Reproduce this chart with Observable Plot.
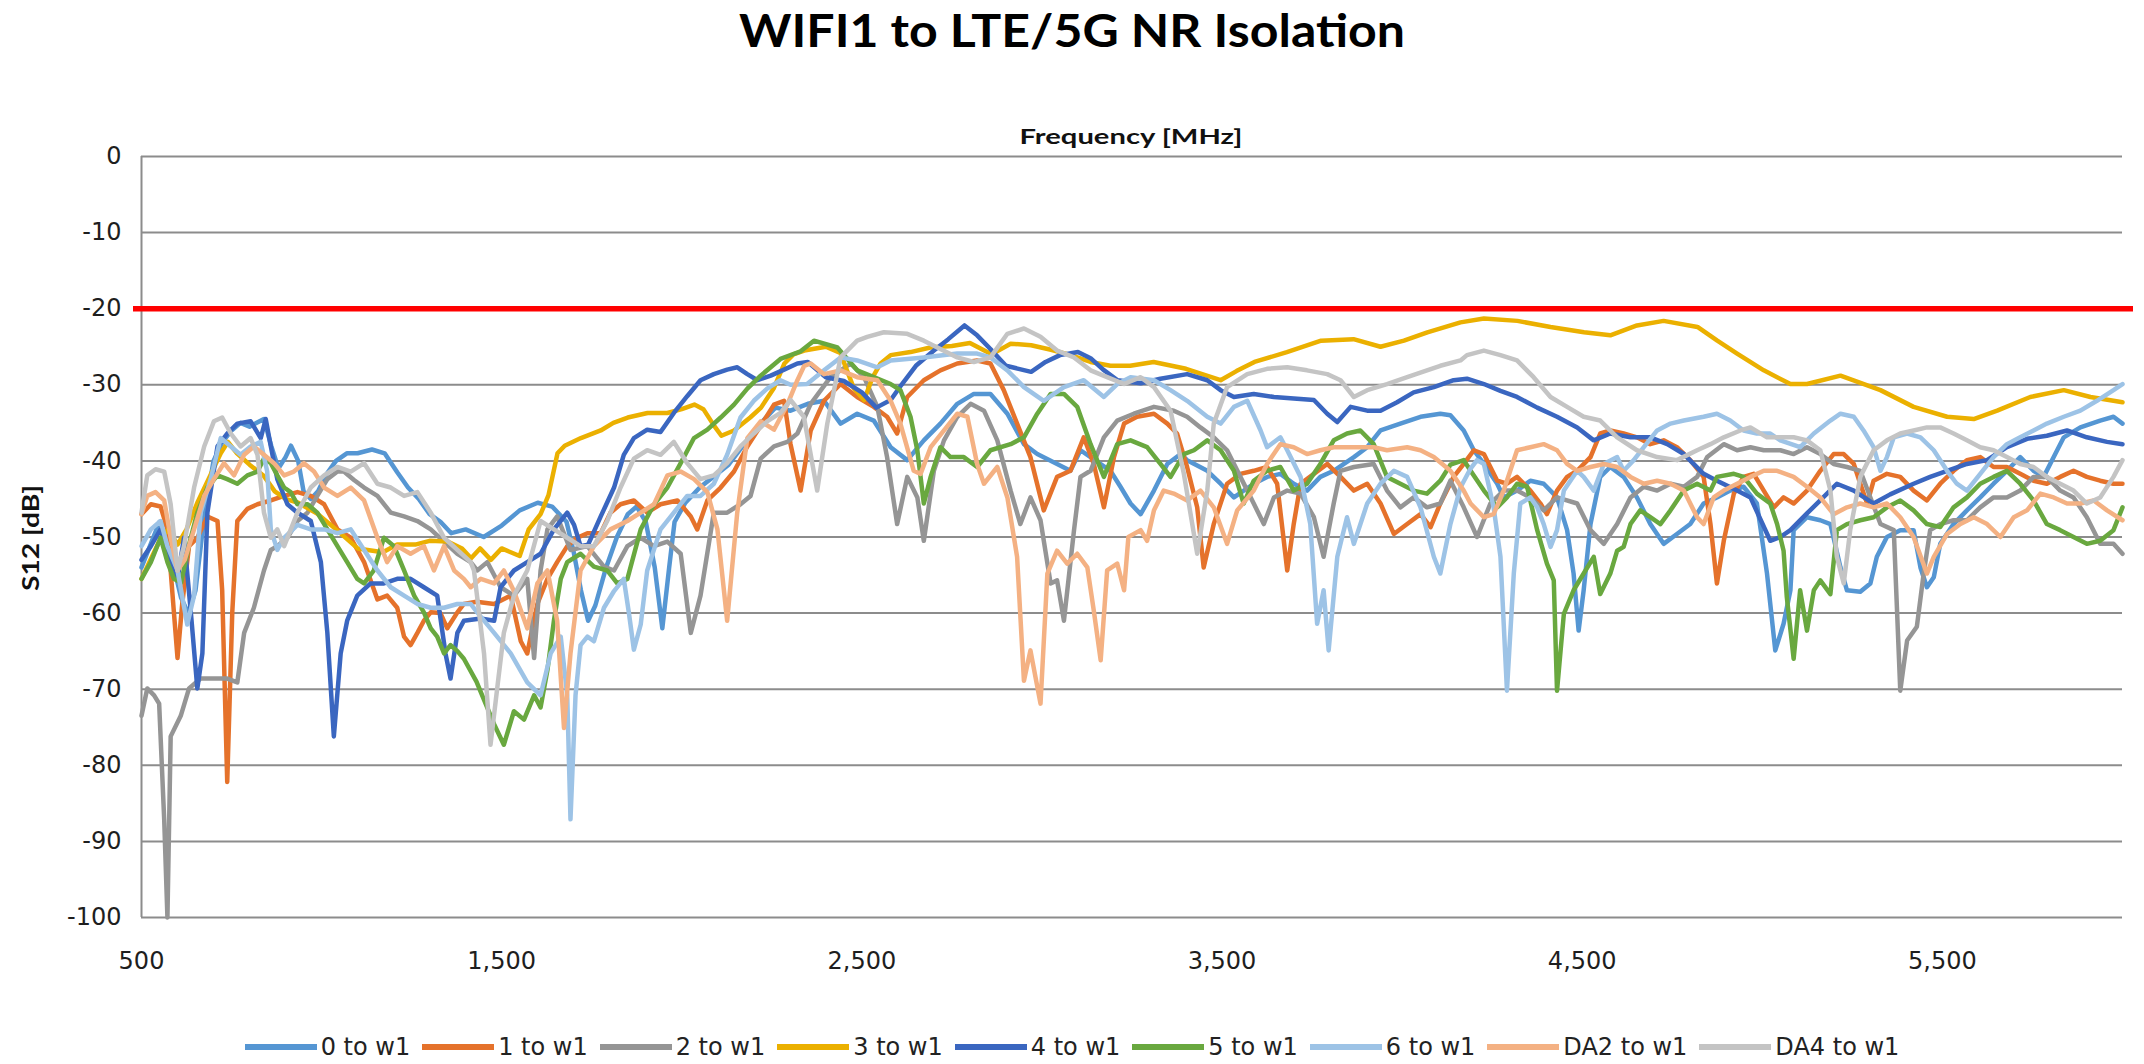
<!DOCTYPE html>
<html>
<head>
<meta charset="utf-8">
<script src="https://cdn.jsdelivr.net/npm/d3@7"></script>
<script src="https://cdn.jsdelivr.net/npm/@observablehq/plot@0.6"></script>
<style>
html, body { margin: 0; padding: 0; background: #ffffff; }
#wrap { position: relative; width: 2144px; height: 1064px; overflow: hidden; background: #fff; }
#chart { position: absolute; left: 0; top: 0; }
.fit { position: absolute; white-space: nowrap; }
#title { top: 2px; left: 1072px; font: bold 46px Lato, sans-serif; line-height: 55px; color: #000; }
#xlabel { top: 124px; left: 1131px; font: bold 20px Lato, sans-serif; line-height: 24px; color: #111; }
#ylabel { top: 538px; left: 31px; font: bold 22px Lato, sans-serif; line-height: 26px; color: #111; }
#legend { position: absolute; left: 0; width: 2144px; top: 1033px; height: 28px; display: flex; justify-content: center; align-items: center; font: 24px "DejaVu Sans", sans-serif; color: #222; }
.item { display: flex; align-items: center; margin: 0 6px; }
.sw { width: 72px; height: 6px; margin-right: 4px; }
</style>
</head>
<body>
<div id="wrap">
  <div id="chart"></div>
  <div id="title" class="fit"><span>WIFI1 to LTE/5G NR Isolation</span></div>
  <div id="xlabel" class="fit"><span>Frequency [MHz]</span></div>
  <div id="ylabel" class="fit"><span>S12 [dB]</span></div>
  <div id="legend"></div>
</div>
<script>
// ---- chart data ----
const seriesNames = ["0 to w1", "1 to w1", "2 to w1", "3 to w1", "4 to w1", "5 to w1", "6 to w1", "DA2 to w1", "DA4 to w1"];
const seriesColors = ["#5596D3", "#E5722B", "#959595", "#EBB000", "#3A66C0", "#69A83F", "#9DC3E6", "#F4B183", "#C4C4C4"];
const xTicks = [500, 1500, 2500, 3500, 4500, 5500];
const yTicks = [0, -10, -20, -30, -40, -50, -60, -70, -80, -90, -100];
const limitLine = -20;
const xDomain = [500, 6000];
const yDomain = [-100, 0];

const s0 = [[500,-54],[525,-51],[550,-48],[570,-48.5],[590,-54],[610,-58],[630,-60],[650,-57],[675,-47],[700,-40],[725,-37.5],[750,-36],[775,-35],[800,-35.5],[820,-35],[840,-34.5],[860,-38],[880,-41],[900,-39.5],[915,-38],[935,-40],[950,-44],[970,-45],[990,-44],[1010,-42],[1040,-40],[1070,-39],[1100,-39],[1140,-38.5],[1175,-39],[1210,-41.5],[1240,-43.5],[1270,-45],[1300,-47],[1330,-48],[1360,-49.5],[1400,-49],[1450,-50],[1500,-48.5],[1550,-46.5],[1600,-45.5],[1640,-46],[1680,-48],[1700,-52],[1720,-57],[1740,-61],[1760,-59],[1790,-54],[1820,-50],[1850,-47],[1875,-46],[1900,-48],[1925,-54],[1946,-62],[1965,-54],[1980,-48],[2010,-45.5],[2050,-43.5],[2090,-42],[2130,-40.5],[2170,-38],[2220,-35],[2260,-33],[2302,-33.4],[2350,-32.5],[2395,-32.1],[2441,-35.1],[2487,-33.8],[2533,-34.7],[2580,-38.2],[2626,-39.9],[2672,-37.3],[2718,-35.1],[2765,-32.5],[2811,-31.2],[2857,-31.2],[2904,-33.8],[2950,-37.8],[2987,-39.1],[3042,-40.4],[3079,-41.3],[3107,-38.6],[3135,-39.5],[3190,-41.3],[3218,-43.4],[3246,-45.6],[3274,-47],[3311,-43.9],[3348,-40.4],[3385,-39.1],[3403,-39.9],[3459,-41.3],[3496,-43],[3533,-44.8],[3588,-43],[3625,-42.1],[3662,-41.7],[3699,-43],[3736,-43.9],[3773,-42.1],[3810,-41.3],[3866,-39.5],[3903,-38.2],[3940,-36],[3995,-35.1],[4051,-34.2],[4106,-33.8],[4134,-34],[4171,-36],[4199,-38.6],[4227,-40.4],[4264,-43],[4282,-44.8],[4319,-43.9],[4356,-42.6],[4393,-43],[4430,-44.8],[4458,-49.1],[4476,-54.8],[4490,-62.3],[4504,-57],[4523,-48.3],[4550,-42.1],[4578,-40.8],[4615,-42.1],[4652,-44.8],[4689,-48.3],[4726,-50.9],[4763,-49.6],[4800,-48.3],[4837,-45.6],[4874,-44.8],[4911,-43.9],[4948,-43.4],[4985,-45.6],[5013,-54.8],[5036,-64.9],[5059,-61.4],[5078,-57],[5087,-49.1],[5124,-47.4],[5161,-47.8],[5189,-48.3],[5217,-54],[5235,-57],[5272,-57.2],[5300,-56.1],[5318,-52.6],[5346,-50],[5383,-49.1],[5420,-49.1],[5439,-54],[5457,-56.6],[5476,-55.3],[5494,-50.9],[5531,-48.3],[5568,-46.5],[5605,-44.8],[5642,-43],[5679,-41.3],[5716,-39.5],[5753,-41.3],[5781,-42.1],[5809,-39.5],[5837,-36.9],[5883,-35.6],[5938,-34.7],[5975,-34.2],[6000,-35.1]];

const s1 = [[500,-47],[526,-45.7],[553,-46],[572,-49],[590,-59.9],[600,-65.9],[613,-58.8],[632,-51.2],[655,-50.1],[683,-47.3],[711,-47.9],[724,-57],[738,-82.2],[752,-59.9],[766,-47.9],[794,-46.3],[822,-45.7],[859,-45.2],[896,-44.6],[933,-44.1],[970,-44.6],[1007,-45.7],[1044,-49],[1081,-50.1],[1118,-53.3],[1155,-58.2],[1182,-57.7],[1210,-59.3],[1229,-63.1],[1247,-64.2],[1266,-62.6],[1284,-61],[1303,-59.9],[1330,-60],[1349,-62],[1377,-59.9],[1395,-58.8],[1430,-58.5],[1479,-58.8],[1525,-57.7],[1553,-63.7],[1571,-65.3],[1599,-58.8],[1627,-55.5],[1654,-53.3],[1682,-51.2],[1710,-50.1],[1738,-49.5],[1775,-49.5],[1802,-46.8],[1830,-45.7],[1867,-45.2],[1904,-46.8],[1941,-45.7],[1988,-45.2],[2025,-47.3],[2043,-49],[2071,-45.2],[2108,-43.5],[2145,-41.4],[2182,-38.1],[2219,-35.4],[2256,-32.6],[2284,-32.1],[2302,-37.8],[2330,-43.9],[2358,-36],[2395,-32.1],[2441,-29.9],[2487,-31.6],[2533,-32.9],[2570,-34.2],[2598,-36.4],[2626,-31.6],[2672,-29.4],[2718,-28.1],[2765,-27.2],[2820,-26.8],[2857,-27.2],[2894,-30.7],[2931,-35.1],[2968,-39.5],[3005,-46.5],[3042,-42.1],[3079,-41.3],[3116,-36.9],[3144,-40.4],[3172,-46.1],[3200,-39.5],[3228,-35.1],[3264,-34.2],[3311,-33.8],[3348,-35.1],[3375,-36.4],[3403,-40.8],[3431,-46.1],[3449,-54],[3477,-48.3],[3514,-43],[3551,-41.7],[3588,-41.3],[3625,-40.8],[3653,-43],[3681,-54.4],[3699,-48.3],[3718,-43],[3755,-41.7],[3792,-40.4],[3829,-42.1],[3866,-43.9],[3903,-43],[3940,-45.6],[3977,-49.6],[4014,-48.3],[4051,-47],[4079,-48.7],[4106,-45.6],[4143,-42.1],[4171,-40.4],[4199,-38.6],[4227,-39.1],[4264,-42.6],[4291,-43],[4319,-42.1],[4356,-43.9],[4384,-45.6],[4402,-47],[4430,-43.9],[4458,-42.1],[4486,-41.3],[4523,-39.5],[4550,-36.4],[4578,-36],[4615,-36.4],[4652,-36.9],[4689,-37.8],[4726,-37.3],[4763,-38.2],[4800,-39.9],[4837,-42.1],[4856,-48.3],[4874,-56.1],[4893,-50.5],[4921,-44.3],[4948,-42.1],[4976,-41.7],[5004,-43.9],[5032,-46.1],[5059,-44.8],[5087,-45.6],[5124,-43.9],[5161,-41.3],[5198,-39.1],[5226,-39.1],[5254,-40.4],[5272,-43],[5291,-45.6],[5309,-42.6],[5346,-41.7],[5383,-42.1],[5420,-43.9],[5457,-45.2],[5494,-43],[5531,-41.3],[5568,-39.9],[5605,-39.5],[5642,-40.8],[5679,-40.8],[5716,-41.7],[5753,-42.6],[5790,-43],[5827,-42.1],[5864,-41.3],[5901,-42.1],[5938,-42.6],[5975,-43],[6000,-43]];

const s2 = [[500,-73.5],[516,-69.9],[535,-70.8],[549,-71.9],[563,-87.1],[572,-100],[581,-76.2],[609,-73.5],[632,-69.9],[664,-68.6],[701,-68.6],[738,-68.6],[766,-69.1],[785,-62.6],[812,-59.3],[840,-54.4],[859,-51.7],[877,-51.2],[905,-50.1],[933,-47.9],[961,-46.8],[988,-44.6],[1016,-42.4],[1044,-41.4],[1062,-41.4],[1090,-42.5],[1118,-43.5],[1155,-44.6],[1192,-46.8],[1229,-47.3],[1266,-47.9],[1303,-49],[1340,-50.6],[1377,-52.2],[1414,-53.3],[1432,-54.4],[1460,-53.3],[1497,-56.6],[1534,-57.7],[1571,-55.5],[1590,-65.9],[1608,-54.4],[1627,-49],[1654,-47.3],[1691,-51.7],[1738,-51.2],[1784,-53.9],[1812,-54.4],[1849,-51.2],[1886,-50.1],[1923,-51.2],[1960,-50.6],[1997,-52.2],[2025,-62.6],[2052,-57.7],[2089,-46.8],[2126,-46.8],[2163,-45.7],[2191,-44.6],[2219,-39.7],[2256,-38.1],[2293,-37.5],[2321,-36.4],[2358,-32.5],[2413,-29],[2469,-27.2],[2506,-29],[2543,-32.9],[2570,-39.5],[2598,-48.3],[2626,-42.1],[2654,-44.8],[2672,-50.5],[2700,-41.3],[2728,-37.3],[2765,-34.2],[2802,-32.5],[2839,-33.4],[2876,-37.3],[2913,-43.9],[2940,-48.3],[2968,-44.8],[2996,-47.8],[3024,-56.1],[3042,-55.7],[3061,-61],[3089,-49.1],[3107,-42.1],[3135,-41.3],[3172,-36.9],[3209,-34.7],[3255,-33.8],[3311,-32.9],[3366,-33.4],[3403,-34.2],[3440,-35.6],[3477,-36.9],[3514,-38.6],[3551,-42.1],[3588,-45.6],[3616,-48.3],[3644,-44.8],[3681,-43.9],[3718,-44.3],[3755,-47.4],[3782,-52.6],[3810,-45.6],[3829,-41.3],[3866,-40.8],[3921,-40.4],[3958,-43.9],[3995,-46.1],[4032,-44.8],[4069,-46.1],[4106,-45.6],[4134,-42.6],[4171,-46.1],[4208,-50],[4245,-45.6],[4282,-43.9],[4319,-43.9],[4356,-44.8],[4393,-46.5],[4430,-44.8],[4486,-45.6],[4523,-49.1],[4560,-50.9],[4597,-48.3],[4634,-44.8],[4671,-43.4],[4708,-43.9],[4745,-43],[4782,-43.4],[4819,-42.1],[4847,-39.5],[4893,-37.8],[4930,-38.6],[4967,-38.2],[5004,-38.6],[5050,-38.6],[5087,-39.1],[5124,-38.2],[5161,-39.1],[5198,-40.4],[5235,-40.8],[5272,-41.3],[5300,-44.8],[5328,-48.3],[5365,-49.1],[5383,-70.2],[5402,-63.6],[5429,-61.8],[5448,-54.8],[5466,-49.1],[5494,-48.3],[5531,-47.8],[5568,-47.8],[5605,-46.1],[5642,-44.8],[5679,-44.8],[5716,-43.9],[5753,-42.1],[5790,-42.1],[5827,-43.9],[5864,-44.8],[5901,-47.4],[5938,-50.9],[5975,-50.9],[6000,-52.2]];

const s3 = [[500,-55.5],[525,-53],[555,-50],[575,-49],[600,-51],[625,-49],[655,-45.5],[690,-42],[720,-39],[740,-37.5],[765,-39],[800,-40.5],[840,-42],[870,-44],[900,-45],[935,-45.5],[990,-47],[1040,-49],[1100,-51.5],[1170,-52],[1210,-51],[1260,-51],[1300,-50.5],[1350,-50.6],[1390,-51.5],[1415,-52.8],[1440,-51.5],[1470,-53],[1500,-51.5],[1525,-52],[1550,-52.5],[1575,-49],[1608,-47],[1630,-44.5],[1655,-39],[1675,-38],[1720,-37],[1775,-36],[1810,-35],[1850,-34.3],[1905,-33.7],[1960,-33.7],[2000,-33.2],[2035,-32.6],[2060,-33.2],[2090,-35.4],[2110,-36.7],[2145,-36],[2190,-34.3],[2220,-33],[2255,-30.5],[2285,-27.2],[2310,-26],[2340,-25.5],[2400,-25],[2440,-25.8],[2478,-30.5],[2506,-32],[2530,-29],[2552,-27.2],[2580,-26.1],[2635,-25.7],[2690,-25.1],[2750,-24.9],[2800,-24.5],[2860,-26],[2913,-24.6],[2970,-24.8],[3025,-25.4],[3080,-26.1],[3135,-27],[3190,-27.5],[3245,-27.5],[3310,-27],[3400,-27.9],[3496,-29.4],[3540,-28.2],[3590,-27],[3680,-25.7],[3775,-24.2],[3865,-24],[3940,-25],[4005,-24.2],[4070,-23.1],[4162,-21.8],[4227,-21.3],[4320,-21.6],[4412,-22.4],[4505,-23.1],[4578,-23.5],[4652,-22.2],[4726,-21.6],[4820,-22.4],[4875,-24.2],[4930,-25.9],[5004,-28.1],[5078,-29.9],[5124,-29.9],[5217,-28.8],[5328,-30.7],[5420,-32.9],[5513,-34.2],[5587,-34.5],[5652,-33.4],[5744,-31.6],[5837,-30.7],[5911,-31.6],[5975,-32.1],[6000,-32.3]];

const s4 = [[500,-53],[526,-51.2],[553,-49],[572,-51.7],[600,-55.5],[618,-50.1],[637,-59.9],[655,-69.9],[669,-65.3],[683,-46.8],[711,-38.1],[738,-36.4],[766,-35.1],[803,-34.8],[831,-37],[845,-34.5],[859,-38.1],[877,-42.4],[905,-45.7],[933,-46.8],[970,-47.9],[998,-53.3],[1016,-62.6],[1034,-76.2],[1053,-65.3],[1071,-61],[1099,-57.7],[1136,-56.1],[1173,-56.1],[1210,-55.5],[1247,-55.5],[1284,-56.6],[1321,-57.7],[1344,-65.3],[1358,-68.6],[1377,-62.6],[1395,-61],[1442,-60.7],[1479,-61],[1497,-56.6],[1534,-54.4],[1571,-53.3],[1608,-52.2],[1645,-49],[1682,-46.8],[1701,-48.4],[1719,-51.2],[1740,-51],[1775,-47.3],[1812,-43.5],[1839,-39.2],[1867,-37],[1904,-35.9],[1941,-36.2],[1978,-33.7],[2015,-31.5],[2052,-29.4],[2089,-28.6],[2126,-28],[2154,-27.7],[2182,-28.6],[2210,-29.4],[2247,-28.8],[2284,-28],[2321,-27.2],[2350,-27],[2400,-29],[2450,-29.5],[2500,-31],[2540,-33],[2580,-32],[2610,-30],[2650,-27.5],[2700,-25.5],[2740,-24],[2785,-22.2],[2820,-23.5],[2857,-25.3],[2900,-27.5],[2970,-28.3],[3010,-27],[3050,-26.1],[3100,-25.7],[3135,-26.5],[3170,-28],[3210,-29.4],[3274,-29.8],[3329,-29.2],[3403,-28.6],[3459,-29.4],[3496,-30.7],[3533,-31.6],[3588,-31.2],[3644,-31.6],[3699,-31.8],[3755,-32],[3792,-33.8],[3820,-34.9],[3857,-32.9],[3903,-33.4],[3940,-33.4],[3986,-32.3],[4032,-31],[4088,-30.3],[4143,-29.4],[4180,-29.2],[4227,-29.9],[4273,-30.8],[4319,-31.6],[4375,-33],[4430,-34.2],[4486,-35.6],[4532,-37.3],[4578,-36.4],[4634,-36.9],[4689,-36.9],[4736,-37.8],[4782,-39.1],[4837,-41.7],[4874,-42.6],[4930,-43.9],[4967,-44.8],[5022,-50.5],[5050,-50],[5078,-49.1],[5124,-46.9],[5165,-45],[5207,-43],[5254,-43.9],[5309,-45.6],[5355,-44.4],[5420,-43],[5466,-42.1],[5513,-41.3],[5568,-40.4],[5624,-39.9],[5679,-38.2],[5735,-37.1],[5790,-36.7],[5846,-36],[5901,-36.9],[5957,-37.5],[6000,-37.8]];

const s5 = [[500,-55.5],[526,-53.3],[553,-50.1],[572,-53.3],[590,-55.5],[610,-56],[632,-51],[655,-46.8],[683,-43.5],[711,-41.9],[738,-42.4],[766,-43],[794,-41.9],[822,-41.4],[840,-39.7],[859,-40.3],[877,-41.9],[896,-43.5],[914,-44.1],[933,-45.7],[961,-45.7],[988,-46.8],[1016,-49],[1044,-51.2],[1071,-53.3],[1099,-55.5],[1118,-56.1],[1145,-54.4],[1173,-50.1],[1201,-51.2],[1229,-54.4],[1257,-57.7],[1284,-59.9],[1303,-62],[1321,-63.1],[1340,-65.3],[1358,-64.2],[1377,-65],[1395,-66],[1430,-69],[1479,-74.6],[1506,-77.3],[1534,-72.9],[1562,-74],[1590,-70.8],[1608,-72.4],[1627,-67.5],[1645,-61],[1664,-55.5],[1682,-53.3],[1719,-52.2],[1756,-53.9],[1793,-54.4],[1821,-56.1],[1849,-55.5],[1886,-49],[1923,-45.7],[1960,-43.5],[1997,-40.3],[2034,-37],[2071,-35.9],[2108,-34.3],[2145,-32.6],[2182,-30.5],[2219,-28.8],[2274,-26.6],[2330,-25.6],[2367,-24.2],[2432,-25.1],[2487,-28.1],[2533,-29],[2580,-29.9],[2607,-30.7],[2635,-34.2],[2654,-38.6],[2672,-45.6],[2691,-42.1],[2718,-38.2],[2746,-39.5],[2783,-39.5],[2820,-40.8],[2857,-38.6],[2913,-37.8],[2950,-36.9],[2987,-33.8],[3024,-31.2],[3061,-31.2],[3098,-32.9],[3135,-37.8],[3172,-42.1],[3209,-37.8],[3246,-37.3],[3292,-38.2],[3329,-40.4],[3357,-42.1],[3394,-39.1],[3422,-38.6],[3459,-37.3],[3496,-38.6],[3533,-41.3],[3560,-45.6],[3588,-42.6],[3625,-41.3],[3662,-40.8],[3699,-43.9],[3736,-43],[3773,-40.4],[3810,-37.3],[3847,-36.4],[3884,-36],[3921,-37.8],[3958,-42.1],[3995,-43],[4032,-43.9],[4069,-44.3],[4106,-42.6],[4134,-40.5],[4171,-39.9],[4190,-41.3],[4227,-43.9],[4264,-46.1],[4291,-44.8],[4319,-43],[4347,-43.4],[4375,-49.1],[4402,-53.5],[4421,-55.7],[4430,-70.2],[4449,-60.1],[4476,-57],[4504,-54.8],[4532,-52.6],[4550,-57.5],[4578,-54.8],[4597,-51.8],[4615,-51.3],[4634,-48.3],[4661,-46.5],[4689,-47.4],[4717,-48.3],[4745,-46.5],[4782,-43.9],[4819,-43],[4856,-43.9],[4874,-42.1],[4921,-41.7],[4948,-42.1],[4985,-44.3],[5022,-45.6],[5041,-48.3],[5059,-51.8],[5068,-57.9],[5087,-66],[5105,-57],[5124,-62.3],[5143,-57],[5161,-55.7],[5189,-57.5],[5207,-49.1],[5235,-48.3],[5272,-47.8],[5309,-47.4],[5346,-46.1],[5383,-45.2],[5420,-46.5],[5457,-48.3],[5494,-48.7],[5531,-46.1],[5568,-44.8],[5605,-43],[5642,-42.1],[5679,-41.3],[5716,-43],[5753,-45.2],[5790,-48.3],[5827,-49.1],[5864,-50],[5901,-50.9],[5938,-50.5],[5975,-49.1],[6000,-46.1]];

const s6 = [[500,-51.2],[526,-49],[553,-47.9],[572,-51.2],[600,-54.4],[627,-61.5],[646,-57.7],[664,-46.8],[692,-42.4],[720,-37],[748,-38.1],[775,-39.2],[803,-38.1],[831,-37.5],[849,-41.4],[859,-49],[877,-51.7],[896,-50.1],[933,-48.4],[970,-49],[1007,-49],[1044,-49.5],[1081,-49],[1118,-51.7],[1155,-54.4],[1192,-56.6],[1229,-57.7],[1266,-58.8],[1303,-59.3],[1340,-59.3],[1377,-58.8],[1414,-58.8],[1432,-59.9],[1479,-62.6],[1525,-65.3],[1571,-69.1],[1608,-70.8],[1636,-65.3],[1664,-63.1],[1682,-70.8],[1691,-87.1],[1705,-70.8],[1719,-64.2],[1738,-63.1],[1756,-63.7],[1784,-59.3],[1812,-57.1],[1839,-55.5],[1853,-59.9],[1867,-64.8],[1886,-61.5],[1904,-54.4],[1941,-49],[1978,-46.8],[2015,-44.6],[2052,-44.6],[2089,-43],[2126,-39.2],[2163,-34.3],[2200,-32.1],[2237,-30.5],[2274,-29.4],[2302,-30],[2348,-29.9],[2395,-28.1],[2441,-26.4],[2487,-26.8],[2543,-27.7],[2580,-26.8],[2672,-26.4],[2765,-25.9],[2820,-25.9],[2857,-26.4],[2904,-28.1],[2950,-30.3],[3005,-32.1],[3061,-30.3],[3116,-29.4],[3172,-31.6],[3209,-29.9],[3246,-29],[3311,-29.4],[3357,-30.7],[3403,-32.1],[3459,-34.2],[3496,-35.1],[3533,-32.9],[3570,-32.1],[3607,-36],[3625,-38.2],[3662,-36.9],[3681,-38.6],[3718,-42.1],[3745,-48.3],[3764,-61.4],[3782,-57],[3796,-64.9],[3820,-52.6],[3847,-47.4],[3866,-50.9],[3903,-45.6],[3940,-43],[3977,-41.3],[4014,-42.1],[4051,-46.1],[4088,-52.6],[4106,-54.8],[4134,-48.3],[4162,-43.5],[4190,-41],[4208,-39.9],[4227,-40.4],[4254,-46.1],[4273,-52.6],[4291,-70.2],[4310,-54.8],[4328,-45.6],[4356,-44.8],[4375,-46.1],[4393,-48.3],[4412,-51.3],[4430,-49.1],[4449,-43.9],[4486,-41.3],[4504,-42.1],[4532,-43.9],[4560,-40.4],[4597,-39.5],[4615,-41.3],[4643,-39.9],[4671,-38.2],[4708,-36],[4745,-35.1],[4782,-34.7],[4837,-34.2],[4874,-33.8],[4911,-34.7],[4948,-36],[4985,-36.4],[5022,-36.4],[5050,-37.3],[5105,-38.2],[5143,-36.4],[5189,-34.7],[5217,-33.8],[5254,-34.2],[5281,-36],[5309,-38.2],[5328,-41.3],[5346,-39.5],[5365,-36.9],[5402,-36.4],[5439,-36.9],[5476,-38.6],[5513,-41.3],[5540,-43],[5568,-43.9],[5605,-41.7],[5642,-39.5],[5679,-37.8],[5716,-36.9],[5753,-36],[5790,-35.1],[5837,-34.2],[5883,-33.4],[5929,-32.1],[5975,-30.7],[6000,-29.9]];

const s7 = [[500,-47],[516,-44.6],[539,-44.1],[563,-45.2],[581,-50.1],[600,-54.4],[620,-53],[646,-49],[674,-44.6],[701,-42.4],[729,-40.3],[757,-41.9],[785,-39.2],[812,-38.1],[840,-39.2],[868,-40.3],[896,-41.9],[923,-41.4],[951,-40.3],[979,-41.4],[1007,-43.5],[1044,-44.6],[1081,-43.5],[1118,-45.2],[1155,-50.1],[1182,-53.3],[1210,-51.2],[1247,-52.2],[1284,-51.2],[1312,-54.4],[1340,-51.2],[1368,-54.4],[1395,-55.5],[1414,-56.6],[1442,-55.5],[1479,-56.1],[1506,-54.4],[1534,-57.1],[1571,-62],[1599,-56.1],[1627,-54.4],[1654,-61],[1673,-75.1],[1691,-65.3],[1719,-54.4],[1756,-51.2],[1802,-49],[1849,-47.9],[1886,-46.8],[1923,-45.7],[1960,-41.9],[1997,-41.4],[2034,-42.4],[2071,-44.1],[2099,-49],[2126,-61],[2154,-46.8],[2182,-37],[2219,-34.8],[2256,-35.9],[2293,-32.6],[2321,-29.4],[2340,-27.5],[2358,-27.2],[2395,-28.6],[2441,-28.1],[2487,-29],[2543,-29.4],[2580,-32.1],[2607,-35.1],[2644,-41.3],[2663,-41.7],[2691,-38.2],[2728,-36],[2765,-33.8],[2793,-34.2],[2820,-40.4],[2839,-43],[2876,-40.8],[2904,-44.8],[2931,-52.6],[2950,-68.9],[2968,-64.9],[2996,-71.9],[3015,-54.8],[3042,-51.8],[3070,-53.5],[3098,-52.2],[3126,-54],[3144,-59.7],[3163,-66.2],[3181,-54.4],[3209,-53.5],[3228,-57],[3240,-50],[3274,-49.1],[3292,-50.5],[3311,-46.5],[3338,-43.9],[3366,-44.3],[3403,-45.2],[3440,-43.9],[3477,-46.1],[3514,-50.9],[3542,-46.5],[3588,-43.9],[3625,-40.4],[3662,-37.8],[3699,-38.2],[3736,-39.1],[3773,-38.6],[3810,-38.2],[3866,-38.2],[3921,-38.2],[3958,-38.6],[4014,-38.2],[4051,-38.6],[4088,-39.5],[4134,-41.3],[4171,-43.9],[4190,-45.6],[4227,-47.4],[4254,-47],[4282,-43.9],[4319,-38.6],[4356,-38.2],[4393,-37.8],[4430,-38.6],[4458,-40.4],[4486,-41.3],[4523,-40.8],[4560,-40.4],[4597,-40.8],[4634,-42.1],[4671,-43],[4708,-42.6],[4745,-43],[4782,-43.9],[4819,-47.4],[4837,-48.3],[4865,-44.8],[4893,-43.9],[4930,-43],[4967,-42.1],[5004,-41.3],[5041,-41.3],[5087,-42.1],[5124,-43.4],[5161,-44.8],[5198,-47],[5235,-46.1],[5272,-45.6],[5309,-46.1],[5346,-45.6],[5383,-47.4],[5420,-50],[5457,-54.8],[5476,-52.6],[5513,-49.6],[5550,-48.3],[5587,-47.4],[5624,-48.3],[5661,-50],[5698,-47.4],[5735,-46.5],[5772,-44.3],[5809,-44.8],[5846,-45.6],[5883,-45.6],[5920,-45.2],[5957,-46.5],[6000,-47.8]];

const s8 = [[500,-46.8],[516,-41.9],[539,-41.1],[563,-41.4],[581,-45.7],[600,-54.4],[618,-51.2],[646,-43.5],[674,-38.1],[701,-34.8],[724,-34.3],[748,-36.4],[775,-38.1],[803,-37],[822,-39.2],[840,-46.8],[859,-50.1],[877,-49],[896,-51.2],[933,-46.8],[970,-43.5],[1007,-41.9],[1044,-40.8],[1081,-41.4],[1118,-40.3],[1155,-43],[1192,-43.5],[1229,-44.6],[1266,-44.1],[1303,-46.8],[1340,-50.1],[1377,-51.7],[1414,-53.3],[1423,-54.4],[1451,-65.3],[1469,-77.3],[1488,-69.7],[1506,-62.6],[1534,-57.7],[1571,-54.4],[1608,-47.9],[1645,-49],[1682,-50.1],[1719,-51.2],[1756,-51.2],[1793,-47.9],[1830,-43.5],[1867,-39.7],[1904,-38.6],[1941,-39.2],[1978,-37.5],[2015,-40.3],[2052,-42.4],[2089,-41.9],[2126,-40.3],[2163,-38.1],[2200,-36.4],[2237,-34.8],[2274,-33.7],[2302,-32],[2339,-34.2],[2376,-43.9],[2404,-35.1],[2441,-26.4],[2487,-24.2],[2515,-23.7],[2561,-23.1],[2626,-23.3],[2672,-24.2],[2718,-25.3],[2765,-26.4],[2811,-27],[2857,-26.4],[2904,-23.3],[2950,-22.6],[2996,-23.7],[3042,-25.5],[3089,-26.4],[3135,-28.1],[3181,-29],[3228,-29.9],[3274,-29],[3311,-30.3],[3357,-33.4],[3394,-41.7],[3431,-52.2],[3459,-43.9],[3477,-35.1],[3514,-30.3],[3570,-28.6],[3625,-27.9],[3681,-27.7],[3736,-28.1],[3792,-28.6],[3829,-29.4],[3866,-31.6],[3903,-30.7],[3958,-29.9],[4014,-29],[4069,-28.1],[4106,-27.5],[4162,-26.8],[4180,-26.1],[4227,-25.5],[4273,-26.1],[4319,-26.8],[4365,-29],[4412,-31.6],[4458,-32.9],[4504,-34.2],[4550,-34.7],[4597,-36.9],[4652,-38.6],[4708,-39.5],[4763,-39.9],[4819,-38.6],[4856,-37.8],[4893,-36.9],[4939,-36],[4967,-35.6],[5013,-36.9],[5050,-36.9],[5087,-36.9],[5124,-37.3],[5161,-38.6],[5189,-43.9],[5207,-52.6],[5226,-56.1],[5244,-49.1],[5272,-42.1],[5309,-38.6],[5346,-37.3],[5383,-36.4],[5420,-36],[5457,-35.6],[5494,-35.6],[5531,-36.4],[5568,-37.3],[5605,-38.2],[5642,-38.6],[5679,-39.5],[5716,-40.4],[5753,-40.8],[5790,-42.1],[5827,-43],[5864,-43.9],[5901,-45.6],[5938,-44.8],[5975,-42.1],[6000,-39.9]];

const seriesValues = [s0, s1, s2, s3, s4, s5, s6, s7, s8];

// ---- build table for Plot ----
const table = seriesValues.flatMap((s, i) => s.map(([f, v]) => ({ f, v, name: seriesNames[i] })));

const chart = Plot.plot({
  width: 2144,
  height: 1000,
  marginLeft: 141,
  marginRight: 22,
  marginTop: 156,
  marginBottom: 83,
  style: { fontFamily: "DejaVu Sans, sans-serif", fontSize: "24px", color: "#1e1e1e", background: "transparent", overflow: "visible" },
  x: { domain: xDomain },
  y: { domain: yDomain },
  color: { domain: seriesNames, range: seriesColors },
  marks: [
    Plot.ruleY(yTicks, { stroke: "#8c8c8c", strokeWidth: 2 }),
    Plot.ruleX([xDomain[0]], { stroke: "#8c8c8c", strokeWidth: 2 }),
    Plot.axisY({ ticks: yTicks, tickSize: 0, tickPadding: 20, tickFormat: d => String(d), label: null, fontSize: 24 }),
    Plot.axisX({ ticks: xTicks, tickSize: 0, tickPadding: 34, tickFormat: d3.format(","), label: null, fontSize: 24 }),
    Plot.line(table, { x: "f", y: "v", z: "name", stroke: "name", strokeWidth: 4.5, strokeLinejoin: "round", strokeLinecap: "round" }),
    Plot.ruleY([limitLine], { stroke: "#FF0000", strokeWidth: 5.5, insetLeft: -8, insetRight: -11 })
  ]
});
document.getElementById("chart").appendChild(chart);

// ---- legend ----
const legend = document.getElementById("legend");
seriesNames.forEach((n, i) => {
  const item = document.createElement("div");
  item.className = "item";
  const sw = document.createElement("div");
  sw.className = "sw";
  sw.style.background = seriesColors[i];
  const lab = document.createElement("span");
  lab.textContent = n;
  item.appendChild(sw);
  item.appendChild(lab);
  legend.appendChild(item);
});

// ---- fit text blocks to the reference widths ----
function fit(id, target, rotate) {
  const el = document.getElementById(id);
  const span = el.querySelector("span");
  const w = span.getBoundingClientRect().width;
  const s = target / w;
  el.style.transformOrigin = "0 0";
  if (rotate) {
    el.style.transform = `rotate(-90deg) scaleX(${s}) translate(-50%, -50%)`;
  } else {
    el.style.transform = `scaleX(${s}) translateX(-50%)`;
  }
}
fit("title", 666, false);
fit("xlabel", 223, false);
fit("ylabel", 106, true);
</script>
</body>
</html>
